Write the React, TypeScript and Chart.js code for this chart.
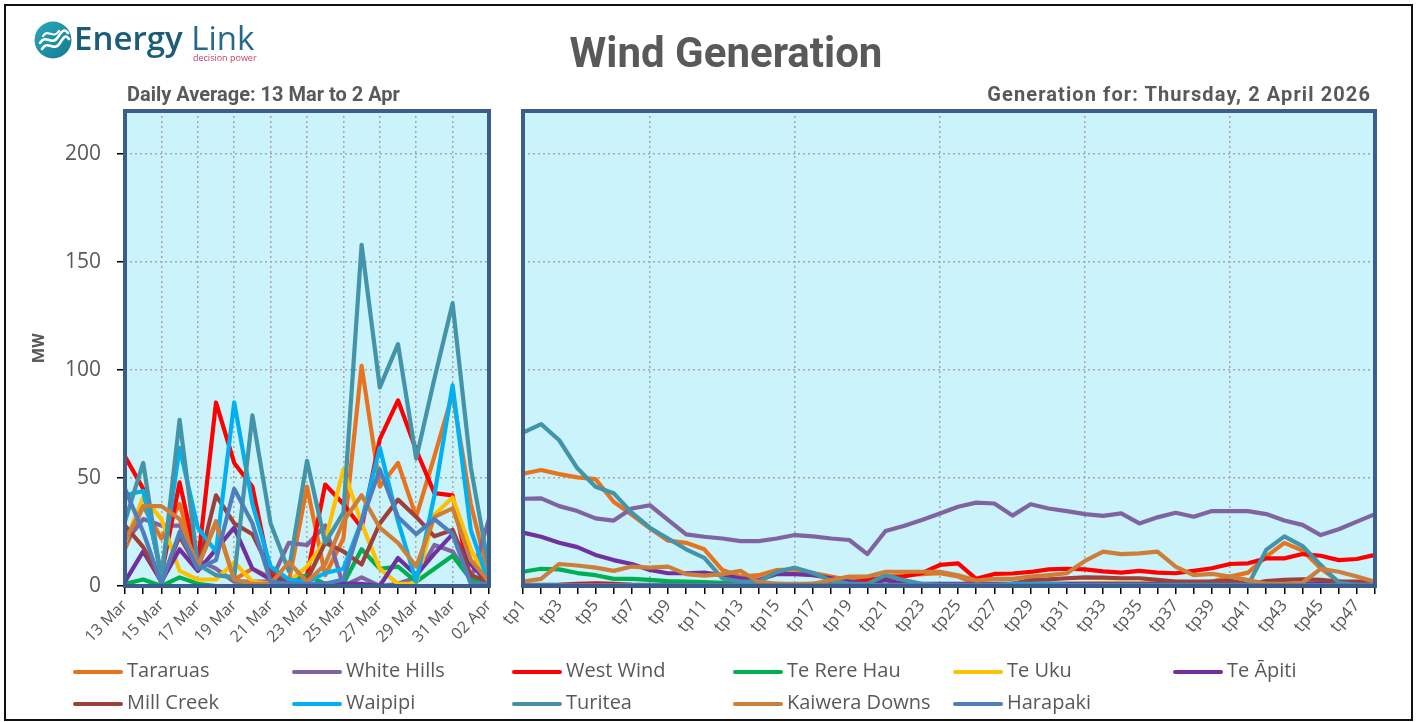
import React, { useEffect, useRef } from "react";
import { Chart, registerables } from "chart.js";

Chart.register(...registerables);

// ---------- Data ----------
const dayLabels = ["13 Mar", "14 Mar", "15 Mar", "16 Mar", "17 Mar", "18 Mar", "19 Mar", "20 Mar", "21 Mar", "22 Mar", "23 Mar", "24 Mar", "25 Mar", "26 Mar", "27 Mar", "28 Mar", "29 Mar", "30 Mar", "31 Mar", "01 Apr", "02 Apr"];

const tpLabels = ["tp1", "tp2", "tp3", "tp4", "tp5", "tp6", "tp7", "tp8", "tp9", "tp10", "tp11", "tp12", "tp13", "tp14", "tp15", "tp16", "tp17", "tp18", "tp19", "tp20", "tp21", "tp22", "tp23", "tp24", "tp25", "tp26", "tp27", "tp28", "tp29", "tp30", "tp31", "tp32", "tp33", "tp34", "tp35", "tp36", "tp37", "tp38", "tp39", "tp40", "tp41", "tp42", "tp43", "tp44", "tp45", "tp46", "tp47", "tp48"];

const seriesNames = ["Tararuas", "White Hills", "West Wind", "Te Rere Hau", "Te Uku", "Te Āpiti", "Mill Creek", "Waipipi", "Turitea", "Kaiwera Downs", "Harapaki"];

// Daily averages (MW), 13 Mar .. 2 Apr
const dailyTararuas = [17, 37, 22, 38, 9, 30, 3, 8, 4, 2, 46, 5, 22, 102, 46, 57, 32, 60, 89, 38, 4];
const dailyWhiteHills = [20, 31, 28, 28, 12, 8, 2, 2, 2, 20, 19, 28, 0, 4, 0, 1, 4, 19, 16, 3, 31];
const dailyWestWind = [60, 45, 5, 48, 10, 85, 57, 46, 5, 3, 5, 47, 38, 27, 68, 86, 63, 43, 42, 2, 1];
const dailyTeRereHau = [1, 3, 0, 4, 1, 0, 0, 1, 1, 2, 5, 1, 1, 17, 8, 9, 2, 8, 14, 3, 1];
const dailyTeUku = [20, 41, 31, 7, 3, 3, 11, 2, 1, 2, 9, 21, 54, 29, 8, 1, 1, 33, 41, 17, 1];
const dailyTeApiti = [2, 16, 2, 17, 7, 17, 27, 8, 3, 2, 1, 1, 1, 1, 0, 13, 5, 15, 24, 10, 1];
const dailyMillCreek = [28, 18, 2, 23, 8, 42, 29, 24, 7, 2, 3, 20, 16, 10, 29, 40, 32, 23, 26, 5, 2];
const dailyWaipipi = [42, 44, 5, 64, 27, 16, 85, 38, 9, 3, 2, 6, 8, 30, 64, 30, 2, 42, 93, 26, 1];
const dailyTuritea = [30, 57, 3, 77, 10, 5, 4, 79, 29, 7, 58, 20, 34, 158, 92, 112, 59, 96, 131, 55, 8];
const dailyKaiweraDowns = [21, 37, 37, 31, 9, 29, 3, 1, 1, 11, 2, 10, 30, 42, 27, 20, 9, 32, 36, 12, 2];
const dailyHarapaki = [45, 25, 1, 25, 8, 12, 45, 29, 2, 1, 1, 1, 3, 30, 54, 32, 24, 31, 24, 1, 1];

// Trading periods (MW), Thursday 2 April 2026
const tpTararuas = [52, 53.7, 51.8, 50.3, 49.5, 39, 33, 26.7, 21, 20, 17, 7.4, 4.4, 5, 7.4, 7.7, 6, 4.4, 2.8, 2.8, 4.4, 5, 5.5, 5.9, 4.4, 1, 1, 1, 1, 1, 1, 1, 1, 1, 1, 1, 1, 1, 2, 4.4, 6.2, 13.6, 20, 16.4, 8.2, 2, 1, 1];
const tpWhiteHills = [40.4, 40.6, 37, 34.7, 31.3, 30.3, 35.9, 37.4, 30.6, 23.9, 22.8, 22, 20.8, 20.8, 22, 23.6, 23, 22, 21.3, 14.8, 25.5, 27.8, 30.6, 33.6, 36.7, 38.6, 38.2, 32.6, 37.9, 35.9, 34.7, 33.3, 32.5, 33.6, 29, 31.8, 33.9, 32.1, 34.7, 34.7, 34.7, 33.3, 30.3, 28.3, 23.6, 26.3, 29.8, 33.3];
const tpWestWind = [0.3, 0.3, 0.5, 1, 1.2, 1, 0.5, 0.3, 0.3, 0.3, 0.3, 0.3, 0.3, 0.3, 0.5, 0.8, 1, 1, 1.5, 2.8, 3.5, 4.4, 5.9, 9.8, 10.5, 3.3, 5.6, 5.8, 6.5, 7.7, 8, 7.7, 6.8, 6.2, 7, 6.2, 5.9, 7, 8.2, 10.2, 10.5, 12.8, 12.8, 14.8, 14, 12, 12.5, 14.4];
const tpTeRereHau = [6.6, 8, 7.7, 6, 5, 3.3, 3.3, 2.8, 2.3, 2, 1.8, 1.5, 1.2, 1, 1, 0.8, 0.6, 0.5, 0.5, 0.5, 0.5, 0.5, 0.5, 0.5, 0.5, 0.5, 0.5, 0.5, 0.5, 0.5, 0.5, 0.5, 0.5, 0.5, 0.5, 0.5, 0.5, 0.5, 0.5, 0.5, 0.5, 0.5, 0.5, 0.5, 0.5, 0.5, 0.5, 0.5];
const tpTeUku = [0.3, 0.3, 0.3, 0.3, 0.3, 0.3, 0.3, 0.3, 0.3, 0.3, 0.3, 0.3, 0.3, 0.3, 0.3, 0.3, 0.3, 0.3, 0.3, 0.3, 0.3, 0.3, 0.3, 0.3, 0.3, 0.3, 0.3, 0.3, 0.3, 0.5, 1, 1.2, 1.5, 1.5, 1.3, 1.5, 2, 1.5, 0.5, 0.3, 0.3, 0.3, 0.3, 0.3, 0.5, 0.5, 0.5, 0.5];
const tpTeApiti = [24.7, 22.8, 20, 18, 14.4, 12, 10.2, 7.4, 5.9, 5.9, 6.2, 5, 3.6, 2.8, 5.5, 5.5, 5, 3.6, 2, 1, 2.8, 1, 1, 1, 1, 1, 1, 1, 1, 1, 1, 1, 1, 1, 1, 1, 1, 1, 1, 1, 1, 1, 1, 1, 1, 1, 1, 1];
const tpMillCreek = [0.5, 0.5, 0.5, 0.5, 0.5, 0.5, 0.5, 0.5, 0.5, 0.5, 0.5, 0.5, 0.5, 0.5, 0.5, 0.5, 0.5, 0.5, 0.5, 0.5, 0.5, 0.5, 0.5, 0.5, 0.5, 0.5, 0.5, 1, 2.8, 3.1, 3.6, 4, 3.9, 3.6, 3.6, 2.8, 2, 2, 2, 2.5, 0.8, 2.3, 2.8, 3.1, 2.8, 2, 2, 2];
const tpWaipipi = [0.3, 0.3, 0.3, 0.3, 0.3, 0.3, 0.3, 0.3, 0.3, 0.3, 0.3, 0.3, 0.3, 0.3, 0.3, 0.3, 0.3, 0.3, 0.3, 0.3, 0.3, 0.3, 0.3, 0.3, 0.3, 0.3, 0.3, 1, 1, 1, 0.5, 0.3, 0.3, 0.3, 0.3, 0.3, 0.3, 0.3, 0.3, 0.3, 0.3, 0.3, 0.3, 0.3, 0.3, 0.3, 0.3, 0.3];
const tpTuritea = [71, 75, 67.5, 54.5, 46, 43, 34, 27, 22, 17, 13, 3.5, 2, 2, 6.5, 8.5, 6, 2.5, 1, 1, 5, 2.8, 1, 0.5, 0.5, 0.5, 0.5, 0.5, 0.5, 0.5, 0.5, 0.5, 0.5, 0.5, 0.5, 0.5, 0.5, 0.5, 0.5, 0.5, 0.5, 16.7, 23, 18.5, 9.8, 1.5, 0.5, 0.5];
const tpKaiweraDowns = [2, 3.3, 10.2, 9.5, 8.5, 7, 9, 8.5, 9, 5.5, 4.8, 5.5, 7, 2, 1, 1, 1, 2.8, 4.4, 4.4, 6.6, 6.6, 6.6, 6.6, 5, 2.5, 3.3, 3.3, 4.4, 5, 5.9, 11.6, 15.9, 14.8, 15.1, 15.9, 9, 5, 5.6, 4.4, 2.8, 1, 1, 1.5, 7.9, 6.6, 4.4, 2];
const tpHarapaki = [0.3, 0.3, 0.3, 0.3, 0.3, 0.3, 0.3, 0.3, 0.3, 0.3, 0.3, 0.3, 0.3, 0.3, 0.3, 0.3, 0.3, 0.3, 0.3, 0.3, 0.3, 0.3, 0.3, 0.3, 0.3, 0.3, 0.3, 0.3, 0.3, 0.3, 0.3, 0.3, 0.3, 0.3, 0.3, 0.3, 0.3, 0.3, 0.3, 0.3, 0.3, 0.3, 0.3, 0.3, 0.3, 0.3, 0.3, 0.3];

const yTickValues = [0, 50, 100, 150, 200];
const yMax = 220;

const dailySeries = [dailyTararuas, dailyWhiteHills, dailyWestWind, dailyTeRereHau, dailyTeUku, dailyTeApiti, dailyMillCreek, dailyWaipipi, dailyTuritea, dailyKaiweraDowns, dailyHarapaki];
const tpSeries = [tpTararuas, tpWhiteHills, tpWestWind, tpTeRereHau, tpTeUku, tpTeApiti, tpMillCreek, tpWaipipi, tpTuritea, tpKaiweraDowns, tpHarapaki];

// ---------- Styles ----------
const seriesColors = ["#E8731F", "#8064A2", "#FF0000", "#00B050", "#FFC000", "#7030A0", "#9E403A", "#00B0F0", "#4394A8", "#CD7F3A", "#4E7EBD"];
const PLOT_BG = "#CAF3FB";
const FRAME = "#3D5D8C";
const GRID = "#A6A6A6";
const TEXT = "#595959";
const W = 1417;
const H = 722;

const framePlugin = {
  id: "panelFrame",
  beforeDraw(chart: any) {
    const { ctx, chartArea: a } = chart;
    ctx.save();
    ctx.fillStyle = PLOT_BG;
    ctx.fillRect(a.left, a.top, a.right - a.left, a.bottom - a.top);
    ctx.restore();
  },
  afterDatasetsDraw(chart: any) {
    const { ctx, chartArea: a } = chart;
    ctx.save();
    ctx.strokeStyle = FRAME;
    ctx.lineWidth = 4;
    ctx.strokeRect(a.left, a.top, a.right - a.left, a.bottom - a.top);
    ctx.restore();
  },
};

function buildConfig(labels: string[], series: number[][], left: boolean): any {
  const n = series.length;
  const datasets = series.map((data, i) => ({
    label: seriesNames[i],
    data,
    borderColor: seriesColors[i],
    backgroundColor: seriesColors[i],
    borderWidth: 4.2,
    pointRadius: 0,
    pointHoverRadius: 0,
    tension: 0,
    fill: false,
    borderJoinStyle: "round",
    borderCapStyle: "round",
    order: n - i,
  }));
  const last = labels.length - 1;
  return {
    type: "line",
    data: { labels, datasets },
    plugins: [framePlugin],
    options: {
      animation: false,
      responsive: false,
      devicePixelRatio: 1,
      events: [],
      layout: {
        padding: left
          ? { left: 0, top: 111, right: W - 489, bottom: 0 }
          : { left: 523, top: 111, right: W - 1375, bottom: 0 },
      },
      plugins: { legend: { display: false }, tooltip: { enabled: false }, title: { display: false } },
      scales: {
        x: {
          type: "category",
          offset: false,
          afterFit: (s: any) => {
            s.height = H - 586;
          },
          border: { display: false, dash: [2, 3] },
          grid: {
            display: true,
            drawOnChartArea: true,
            drawTicks: true,
            tickLength: 8,
            tickWidth: 1.5,
            tickColor: "#000",
            lineWidth: 1.5,
            borderDash: [2, 3],
            color: (ctx: any) => {
              const i = ctx.index;
              if (i === 0 || i === last) return "rgba(0,0,0,0)";
              if (left) return i % 2 === 0 ? GRID : "rgba(0,0,0,0)";
              return i % 8 === 7 ? GRID : "rgba(0,0,0,0)";
            },
          },
          ticks: {
            autoSkip: false,
            minRotation: left ? 45 : 50,
            maxRotation: left ? 45 : 50,
            padding: 2,
            color: TEXT,
            font: { family: "'Open Sans', sans-serif", size: left ? 16 : 17 },
            callback: (_v: any, i: number) => (i % 2 === 0 ? labels[i] : ""),
          },
        },
        y: {
          type: "linear",
          min: 0,
          max: yMax,
          afterFit: (s: any) => {
            s.width = left ? 125 : 0;
          },
          afterBuildTicks: (s: any) => {
            s.ticks = yTickValues.map((v) => ({ value: v }));
          },
          border: { display: false, dash: [2, 3] },
          grid: {
            display: true,
            drawTicks: left,
            tickLength: 8,
            tickWidth: 1.5,
            tickColor: "#000",
            lineWidth: 1.5,
            borderDash: [2, 3],
            color: (ctx: any) => (ctx.tick && ctx.tick.value > 0 && ctx.tick.value < yMax ? GRID : "rgba(0,0,0,0)"),
          },
          ticks: {
            display: left,
            padding: 16,
            color: TEXT,
            font: () => ({ family: "'Open Sans', sans-serif", size: 21 }),
          },
        },
      },
    },
  };
}

const legendCols = [73, 292, 512, 733, 953, 1173];

function Logo() {
  return (
    <div style={{ position: "absolute", left: 34, top: 19, width: 240, height: 46 }}>
      <svg width={40} height={40} style={{ position: "absolute", left: 0, top: 2 }} viewBox="0 0 40 40">
        <defs>
          <linearGradient id="lg" x1="0" y1="0" x2="1" y2="1">
            <stop offset="0" stopColor="#2BA8B8" />
            <stop offset="1" stopColor="#147A93" />
          </linearGradient>
        </defs>
        <circle cx={19} cy={19} r={18.5} fill="url(#lg)" />
        <path d="M6 22 C 12 12, 18 26, 24 16 S 32 10, 34 12" stroke="#fff" strokeWidth={2.6} fill="none" strokeLinecap="round" />
        <path d="M8 28 C 14 18, 20 32, 26 22 S 33 16, 35 18" stroke="#fff" strokeWidth={2.6} fill="none" strokeLinecap="round" />
        <path d="M9 15 C 14 7, 19 19, 25 10" stroke="#fff" strokeWidth={2.2} fill="none" strokeLinecap="round" />
      </svg>
      <div
        style={{
          position: "absolute",
          left: 40,
          top: 0,
          fontFamily: "'Open Sans', sans-serif",
          fontSize: 33,
          lineHeight: "38px",
          color: "#1B5C7A",
          whiteSpace: "nowrap",
          letterSpacing: 0,
        }}
      >
        <span style={{ fontWeight: 600 }}>Energy</span> <span style={{ fontWeight: 400, color: "#24698A" }}>Link</span>
      </div>
      <div
        style={{
          position: "absolute",
          left: 159,
          top: 34,
          fontFamily: "'Open Sans', sans-serif",
          fontSize: 9,
          lineHeight: "10px",
          color: "#C8416E",
          whiteSpace: "nowrap",
        }}
      >
        decision power
      </div>
    </div>
  );
}

export default function App() {
  const leftRef = useRef<HTMLCanvasElement | null>(null);
  const rightRef = useRef<HTMLCanvasElement | null>(null);

  useEffect(() => {
    const c1 = new Chart(leftRef.current as HTMLCanvasElement, buildConfig(dayLabels, dailySeries, true));
    const c2 = new Chart(rightRef.current as HTMLCanvasElement, buildConfig(tpLabels, tpSeries, false));
    return () => {
      c1.destroy();
      c2.destroy();
    };
  }, []);

  const canvasStyle: React.CSSProperties = { position: "absolute", left: 0, top: 0, width: W, height: H };
  const headStyle: React.CSSProperties = {
    position: "absolute",
    fontFamily: "Roboto, 'Open Sans', sans-serif",
    fontWeight: 700,
    color: TEXT,
    whiteSpace: "nowrap",
  };

  return (
    <div style={{ position: "absolute", left: 0, top: 0, width: W, height: H, background: "#fff", overflow: "hidden" }}>
      <div
        style={{
          position: "absolute",
          left: 4,
          top: 4,
          width: 1409,
          height: 717,
          border: "2px solid #111",
          boxSizing: "border-box",
        }}
      />
      <canvas ref={leftRef} width={W} height={H} style={canvasStyle} />
      <canvas ref={rightRef} width={W} height={H} style={canvasStyle} />

      <Logo />

      <div style={{ ...headStyle, left: 0, width: 1452, textAlign: "center", top: 32, fontSize: 42, lineHeight: "42px" }}>
        Wind Generation
      </div>
      <div style={{ ...headStyle, left: 127, top: 84, fontSize: 20, lineHeight: "20px" }}>Daily Average: 13 Mar to 2 Apr</div>
      <div style={{ ...headStyle, right: W - 1371, top: 84, fontSize: 20, lineHeight: "20px", letterSpacing: 1.1 }}>
        Generation for: Thursday, 2 April 2026
      </div>

      <div
        style={{
          ...headStyle,
          left: 38 - 20,
          top: 348 - 10,
          width: 40,
          height: 20,
          fontSize: 17,
          lineHeight: "20px",
          textAlign: "center",
          transform: "rotate(-90deg)",
        }}
      >
        MW
      </div>

      {seriesNames.map((name, i) => {
        const col = i < 6 ? i : i - 6;
        const row = i < 6 ? 0 : 1;
        const x = legendCols[col];
        const top = row === 0 ? 658 : 690;
        return (
          <React.Fragment key={name}>
            <div
              style={{
                position: "absolute",
                left: x,
                top: top + 12,
                width: 50,
                height: 4,
                borderRadius: 2,
                background: seriesColors[i],
              }}
            />
            <div
              style={{
                position: "absolute",
                left: x + 54,
                top,
                fontFamily: "'Open Sans', sans-serif",
                fontSize: 20,
                lineHeight: "24px",
                color: TEXT,
                whiteSpace: "nowrap",
              }}
            >
              {name}
            </div>
          </React.Fragment>
        );
      })}
    </div>
  );
}
